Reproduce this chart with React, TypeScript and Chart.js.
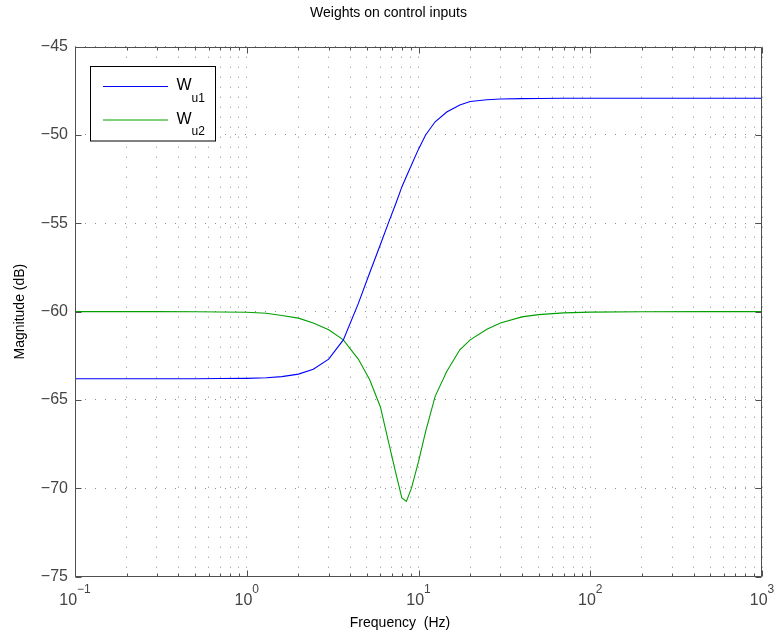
import React, { useEffect, useRef } from 'react';
import { Chart, registerables } from 'chart.js';

Chart.register(...registerables);

// Frequency grid (Hz) and magnitudes (dB) of the two control-input weights
const frequencies = [
  0.1, 0.15, 0.2, 0.3, 0.5, 0.7, 1, 1.3, 1.6, 2, 2.44, 3, 3.65, 4.46, 5.2, 6, 6.7, 7.4,
  8, 8.5, 9.1, 10, 11, 12.5, 14.6, 17.4, 20, 25, 30, 40, 50, 70, 100, 200, 500, 1000,
];
const wu1Magnitude = [
  -63.8, -63.8, -63.8, -63.8, -63.8, -63.79, -63.78, -63.75, -63.68, -63.54, -63.26, -62.69,
  -61.6, -59.55, -57.8, -56.2, -54.95, -53.85, -52.94, -52.35, -51.7, -50.8, -50.0, -49.25,
  -48.7, -48.3, -48.1, -48.0, -47.96, -47.94, -47.93, -47.92, -47.92, -47.92, -47.92, -47.92,
];
const wu2Magnitude = [
  -60.0, -60.0, -60.0, -60.0, -60.01, -60.02, -60.04, -60.09, -60.22, -60.37, -60.65, -61.03,
  -61.6, -62.69, -63.86, -65.4, -67.4, -69.2, -70.55, -70.75, -70.0, -68.5, -66.8, -64.8,
  -63.39, -62.16, -61.6, -61.0, -60.65, -60.3, -60.17, -60.07, -60.03, -60.01, -60.0, -60.0,
];

const seriesSymbols = ['W', 'W'];
const seriesSubscripts = ['u1', 'u2'];
const seriesColors = ['#0000ff', '#00a000'];

const decadeExponents = [-1, 0, 1, 2, 3];
const minorMultipliers = [2, 3, 4, 5, 6, 7, 8, 9];
const yMin = -75;
const yMax = -45;
const yStep = 5;

const titleText = 'Weights on control inputs';
const xLabel = 'Frequency  (Hz)';
const yLabel = 'Magnitude (dB)';

const FONT = '"Liberation Sans", Arial, Helvetica, sans-serif';
const MINUS = '\u2212';
const AXIS_COLOR = '#505050';
const TICK_COLOR = '#444444';
const GRID_COLOR = '#8c8c8c';

const frameAndLegend = {
  id: 'frameAndLegend',
  afterDraw(chart: any) {
    const { ctx, chartArea, scales } = chart;
    const xs = scales.x;
    const ys = scales.y;
    const L = Math.round(chartArea.left) + 0.5;
    const R = Math.round(chartArea.right) - 0.5;
    const T = Math.round(chartArea.top) + 0.5;
    const B = Math.round(chartArea.bottom) - 0.5;

    ctx.save();
    // axes box with inward tick marks
    ctx.strokeStyle = AXIS_COLOR;
    ctx.lineWidth = 1;
    ctx.setLineDash([]);
    ctx.beginPath();
    ctx.rect(L, T, R - L, B - T);
    xs.ticks.forEach((t: any) => {
      const px = Math.round(xs.getPixelForValue(t.value)) + 0.5;
      const len = t.major ? 6 : 3;
      ctx.moveTo(px, B);
      ctx.lineTo(px, B - len);
      ctx.moveTo(px, T);
      ctx.lineTo(px, T + len);
    });
    ys.ticks.forEach((t: any) => {
      const py = Math.round(ys.getPixelForValue(t.value)) + 0.5;
      ctx.moveTo(L, py);
      ctx.lineTo(L + 6, py);
      ctx.moveTo(R, py);
      ctx.lineTo(R - 6, py);
    });
    ctx.stroke();

    // decade labels as 10 with a raised exponent
    ctx.fillStyle = TICK_COLOR;
    ctx.textBaseline = 'alphabetic';
    ctx.textAlign = 'left';
    decadeExponents.forEach((e) => {
      const px = xs.getPixelForValue(Math.pow(10, e));
      const base = '10';
      const exp = e < 0 ? MINUS + Math.abs(e) : String(e);
      ctx.font = `16px ${FONT}`;
      const wb = ctx.measureText(base).width;
      ctx.font = `12px ${FONT}`;
      const we = ctx.measureText(exp).width;
      const x0 = px - (wb + we) / 2;
      ctx.font = `16px ${FONT}`;
      ctx.fillText(base, x0, chartArea.bottom + 28.5);
      ctx.font = `12px ${FONT}`;
      ctx.fillText(exp, x0 + wb, chartArea.bottom + 16.5);
    });

    // horizontal axis label
    ctx.fillStyle = '#000000';
    ctx.font = `14px ${FONT}`;
    ctx.textAlign = 'center';
    ctx.fillText(xLabel, 400, chartArea.bottom + 50);
    ctx.textAlign = 'left';

    // legend
    const bx = 90.5;
    const by = 66.5;
    const bw = 125;
    const bh = 74.5;
    ctx.fillStyle = '#ffffff';
    ctx.fillRect(bx, by, bw, bh);
    ctx.strokeStyle = '#000000';
    ctx.strokeRect(bx, by, bw, bh);
    chart.data.datasets.forEach((ds: any, i: number) => {
      const rowY = by + 20 + i * 33.5;
      ctx.strokeStyle = ds.borderColor;
      ctx.lineWidth = 1;
      ctx.beginPath();
      ctx.moveTo(bx + 12.5, rowY);
      ctx.lineTo(bx + 77.5, rowY);
      ctx.stroke();
      ctx.fillStyle = '#000000';
      ctx.font = `16px ${FONT}`;
      const sx = bx + 86;
      ctx.fillText(seriesSymbols[i], sx, rowY + 3.5);
      const ws = ctx.measureText(seriesSymbols[i]).width;
      ctx.font = `12px ${FONT}`;
      ctx.fillText(seriesSubscripts[i], sx + ws, rowY + 15);
    });
    ctx.restore();
  },
};

export default function App() {
  const canvasRef = useRef<HTMLCanvasElement | null>(null);

  useEffect(() => {
    const canvas = canvasRef.current;
    if (!canvas) return;
    const series = [wu1Magnitude, wu2Magnitude];
    const chart = new Chart(canvas, {
      type: 'line',
      data: {
        datasets: series.map((values, i) => ({
          label: seriesSymbols[i] + seriesSubscripts[i],
          data: frequencies.map((f, j) => ({ x: f, y: values[j] })),
          borderColor: seriesColors[i],
          backgroundColor: seriesColors[i],
          borderWidth: 1.1,
          pointRadius: 0,
          tension: 0,
          fill: false,
        })),
      },
      options: {
        responsive: false,
        animation: false,
        devicePixelRatio: 1,
        layout: { padding: { top: 0, left: 0, right: 0, bottom: 0 } },
        plugins: {
          legend: { display: false },
          tooltip: { enabled: false },
          title: {
            display: true,
            text: titleText,
            color: '#000000',
            font: { family: FONT, size: 14, weight: 'normal' },
            padding: { top: 4.6, bottom: 25.3 },
          },
        },
        scales: {
          x: {
            type: 'logarithmic',
            min: Math.pow(10, decadeExponents[0]),
            max: Math.pow(10, decadeExponents[decadeExponents.length - 1]),
            afterBuildTicks: (scale: any) => {
              const ticks: any[] = [];
              decadeExponents.forEach((e, k) => {
                const d = Math.pow(10, e);
                ticks.push({ value: d, major: true });
                if (k < decadeExponents.length - 1) {
                  minorMultipliers.forEach((m) => ticks.push({ value: m * d, major: false }));
                }
              });
              scale.ticks = ticks;
            },
            afterFit: (scale: any) => {
              scale.height = 60.5;
            },
            ticks: { display: false },
            grid: { color: GRID_COLOR, lineWidth: 1, drawTicks: false, tickLength: 0 },
            border: { display: false, dash: [1, 9] },
            title: { display: false },
          },
          y: {
            type: 'linear',
            min: yMin,
            max: yMax,
            ticks: {
              stepSize: yStep,
              color: TICK_COLOR,
              padding: 7,
              font: { family: FONT, size: 16 },
              callback: (v: any) => (Number(v) < 0 ? MINUS + Math.abs(Number(v)) : String(v)),
            },
            afterFit: (scale: any) => {
              scale.width = 75;
            },
            grid: { color: GRID_COLOR, lineWidth: 1, drawTicks: false, tickLength: 0 },
            border: { display: false, dash: [1, 9] },
            title: {
              display: true,
              text: yLabel,
              color: '#000000',
              font: { family: FONT, size: 14, weight: 'normal' },
              padding: { top: 11.6, bottom: 0 },
            },
          },
          // empty right-hand margin of the axes
          yRight: {
            type: 'linear',
            position: 'right',
            display: true,
            afterFit: (scale: any) => {
              scale.width = 15;
            },
            ticks: { display: false },
            grid: { display: false, drawTicks: false },
            border: { display: false },
            title: { display: false },
          },
        },
      },
      plugins: [frameAndLegend],
    });
    return () => chart.destroy();
  }, []);

  return (
    <div style={{ position: 'absolute', left: 0, top: 0, width: 777, height: 637, background: '#ffffff' }}>
      <canvas ref={canvasRef} width={777} height={637} style={{ display: 'block' }} />
    </div>
  );
}
